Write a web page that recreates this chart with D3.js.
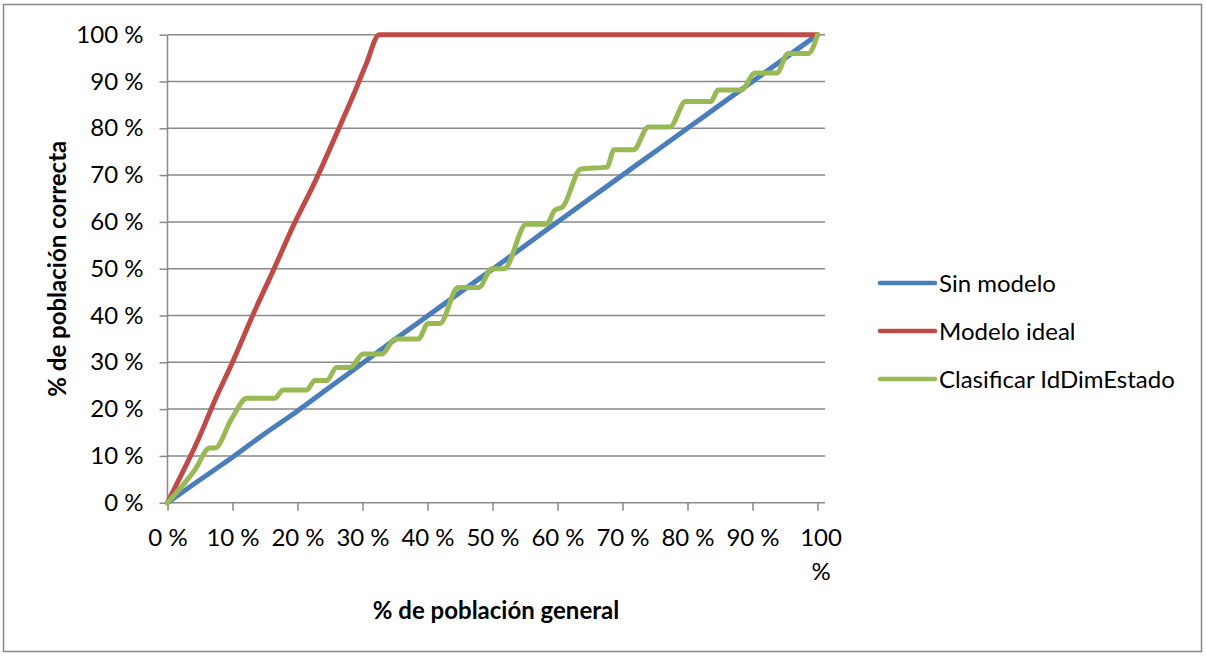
<!DOCTYPE html>
<html>
<head>
<meta charset="utf-8">
<script src="https://cdn.jsdelivr.net/npm/d3@7"></script>
<style>
  html, body { margin: 0; padding: 0; background: #fff; }
  svg { display: block; }
  text { font-family: Lato, "Noto Sans", sans-serif; fill: #000; }
</style>
</head>
<body>
<svg id="chart" width="1206" height="656"></svg>
<script>
// ---- data ----
const yTicks = [0, 10, 20, 30, 40, 50, 60, 70, 80, 90, 100];
const xTicks = [0, 10, 20, 30, 40, 50, 60, 70, 80, 90, 100];
const tickLabels = ["0 %", "10 %", "20 %", "30 %", "40 %", "50 %", "60 %", "70 %", "80 %", "90 %", "100 %"];

const seriesNames = ["Sin modelo", "Modelo ideal", "Clasificar IdDimEstado"];
const seriesColors = ["#4A7EBB", "#BE4B48", "#98B954"];

const sinModeloX = [0, 5, 10, 15, 20, 25, 30, 35, 40, 45, 50, 55, 60, 65, 70, 75, 80, 85, 90, 95, 100];
const sinModeloY = [0, 4.9, 9.7, 14.8, 19.6, 24.7, 29.8, 34.9, 39.9, 44.9, 49.9, 54.9, 60, 65, 70, 75, 80, 85, 90, 95, 100];

const idealX = [0, 2.5, 4.7, 7.3, 10, 13, 16.3, 19.4, 22.7, 25.8, 28.6, 30.5, 32.6, 100];
const idealY = [0, 7, 13.4, 21.9, 30, 39.7, 49.7, 59.3, 68.6, 78.2, 87.1, 93.5, 100, 100];

const clasifX = [0, 4.2, 6.5, 7.3, 9.9, 12.2, 16.5, 17.8, 21.4, 22.7, 24.5, 26, 28.1, 30.1, 33, 35, 38.6, 40.1, 41.9, 44.7, 47.9, 49.9, 51.8, 55.2, 58.3, 59.6, 60.8, 63.6, 67.6, 68.7, 71.7, 74, 77.3, 79.7, 83.6, 84.7, 88.3, 90.4, 93.7, 95.5, 98.6, 100];
const clasifY = [0, 7, 11.7, 11.7, 18, 22.3, 22.3, 24.1, 24.1, 26.1, 26.1, 28.9, 28.9, 31.8, 31.8, 35, 35, 38.3, 38.3, 46, 46, 50, 50, 59.5, 59.5, 62.5, 63.2, 71.3, 71.7, 75.4, 75.4, 80.3, 80.3, 85.7, 85.7, 88.2, 88.2, 91.8, 91.8, 96, 96, 100];

const yTitle = "% de población correcta";
const xTitle = "% de población general";

// ---- drawing ----
const svg = d3.select("#chart");
const grey = "#898989";

svg.append("rect")
  .attr("x", 3.5).attr("y", 4.5).attr("width", 1198).attr("height", 647)
  .attr("fill", "#fff").attr("stroke", grey).attr("stroke-width", 1.5);

const plotLeft = 167.5, plotRight = 825, plotTop = 34.7, plotBottom = 502.7;
const x = d3.scaleLinear().domain([0, 100]).range([167.5, 817.5]);
const y = d3.scaleLinear().domain([0, 100]).range([plotBottom, plotTop]);

// gridlines
svg.append("g").selectAll("line").data(yTicks.filter(d => d > 0)).join("line")
  .attr("x1", plotLeft).attr("x2", plotRight)
  .attr("y1", d => y(d)).attr("y2", d => y(d))
  .attr("stroke", grey).attr("stroke-width", 1.5);

// y axis
const yAxis = svg.append("g").attr("transform", `translate(${plotLeft},0)`)
  .call(d3.axisLeft(y).tickValues(yTicks).tickSize(8).tickPadding(16).tickFormat((d, i) => tickLabels[i]));
yAxis.select(".domain").attr("stroke", grey).attr("stroke-width", 1.5).attr("d", `M0,${plotTop}V${plotBottom}`);
yAxis.selectAll(".tick line").attr("stroke", grey).attr("stroke-width", 1.5);
yAxis.selectAll(".tick text").attr("font-size", 24).attr("font-family", "Lato").attr("fill", "#000");

// x axis
const xAxis = svg.append("g").attr("transform", `translate(0,${plotBottom})`)
  .call(d3.axisBottom(x).tickValues(xTicks).tickSize(8).tickPadding(14).tickFormat(() => ""));
xAxis.select(".domain").attr("stroke", grey).attr("stroke-width", 1.5).attr("d", `M${plotLeft},0H${plotRight}`);
xAxis.selectAll(".tick line").attr("stroke", grey).attr("stroke-width", 1.5);
xAxis.selectAll(".tick text").remove();
xAxis.selectAll(".tick").each(function(d, i) {
  const lab = tickLabels[i];
  const t = d3.select(this).append("text")
    .attr("font-size", 24).attr("font-family", "Lato").attr("fill", "#000")
    .attr("text-anchor", "middle");
  if (lab === "100 %") {
    t.append("tspan").attr("x", 3).attr("y", 43).text("100");
    t.append("tspan").attr("x", 3).attr("y", 77).text("%");
  } else {
    t.attr("y", 43).text(lab);
  }
});

// lines
const line = d3.line().x(d => x(d[0])).y(d => y(d[1])).curve(d3.curveMonotoneX);
const seriesData = [
  d3.zip(sinModeloX, sinModeloY),
  d3.zip(idealX, idealY),
  d3.zip(clasifX, clasifY)
];
svg.append("g").selectAll("path").data(seriesData).join("path")
  .attr("d", line)
  .attr("fill", "none")
  .attr("stroke", (d, i) => seriesColors[i])
  .attr("stroke-width", 5)
  .attr("stroke-linejoin", "round")
  .attr("stroke-linecap", "round");

// axis titles
svg.append("text")
  .attr("transform", `translate(66,${(plotTop + plotBottom) / 2}) rotate(-90)`)
  .attr("text-anchor", "middle")
  .attr("font-size", 24).attr("font-weight", "bold")
  .text(yTitle);
svg.append("text")
  .attr("x", 496).attr("y", 619)
  .attr("text-anchor", "middle")
  .attr("font-size", 24).attr("font-weight", "bold")
  .text(xTitle);

// legend
const legendY = [283, 331, 379];
const lg = svg.append("g").selectAll("g").data(seriesNames).join("g")
  .attr("transform", (d, i) => `translate(880,${legendY[i]})`);
lg.append("line").attr("x1", 0).attr("x2", 55).attr("y1", 0).attr("y2", 0)
  .attr("stroke", (d, i) => seriesColors[i]).attr("stroke-width", 4.5).attr("stroke-linecap", "round");
lg.append("text").attr("x", 59).attr("y", 8.5).attr("font-size", 24).text(d => d);
</script>
</body>
</html>
